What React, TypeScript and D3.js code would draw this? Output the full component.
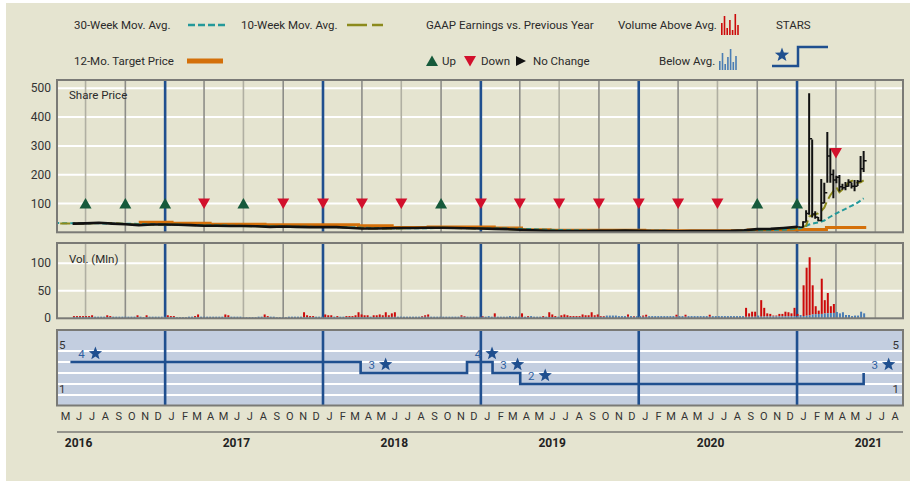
import React from "react";
import * as d3 from "d3";

// share price, level at the start of each month, Jun 2016 - Dec 2020
const priceMonthly = [
  30, 31, 33, 30, 28, 25, 27,
  27, 26, 25, 23, 23, 22, 22, 21, 19, 20, 19, 18,
  18, 18, 16, 13, 13, 14, 15, 15, 16, 16, 15, 14,
  13, 12, 11, 9, 7, 5.5, 4.5, 4, 4, 5, 5.5, 6,
  5, 4, 4, 3.5, 4.5, 4.5, 4.5, 5, 7, 11, 12, 15
];

// weekly bars from Fri Jan 1 2021 to Fri Jun 4 2021
const high2021 = [21.5, 19.1, 38.7, 76.8, 483, 322, 72.7, 53.5, 184.7, 172.2, 348.5, 292, 218, 196.4, 198.8, 169, 175, 184.5, 172.9, 182, 182, 265, 282.5];
const low2021 = [18.5, 17.1, 17.0, 36.6, 61.1, 51.1, 46.8, 38.5, 38.5, 101, 172.4, 172, 118.5, 170, 141.5, 148, 146, 158, 152, 142.3, 161, 175, 209.5];
const close2021 = [18.8, 17.7, 35.5, 65, 325, 63.8, 52.4, 40.6, 101.7, 137.7, 264.5, 200.3, 181.8, 190.8, 158.4, 154.7, 160.1, 173.6, 159.9, 160, 176.8, 220.4, 248.4];

// moving averages: monthly Apr 2016 - Dec 2020, then weekly 2021
const ma10Monthly = [
  31, 31, 30, 30, 32, 32, 29, 26, 26,
  27, 27, 25, 24, 23, 22, 22, 21, 20, 19, 19, 18,
  18, 18, 17, 14, 13, 13, 14, 15, 15, 16, 15, 14,
  13, 12, 11, 10, 8, 6.5, 5, 4.3, 4, 4.5, 5.2, 5.8,
  5.2, 4.5, 4, 3.8, 4.2, 4.5, 4.5, 4.8, 6, 9, 11, 14
];
const ma10Weekly = [14.8, 15.5, 17.9, 23.3, 54.5, 59.2, 62.8, 65.5, 74.1, 85.8, 110.4, 128.7, 143.3, 155.9, 139.2, 148.3, 159.1, 172.4, 178.2, 180.4, 171.6, 173.6, 180.3];
const ma30Monthly = [
  32, 32, 31, 31, 31, 30, 30, 29, 28,
  27, 26, 25, 25, 24, 23, 22, 22, 21, 20, 19, 19,
  18, 18, 17, 16, 15, 14, 14, 14, 14, 15, 15, 15,
  14, 13, 13, 12, 11, 9, 8, 7, 6, 5, 4.5, 4.5,
  4.8, 5, 5, 4.6, 4.3, 4.1, 4.2, 4.5, 5, 6, 7.5, 9
];
const ma30Weekly = [12, 14, 18, 22, 27, 30, 32, 34, 37, 41, 48, 54, 60, 66, 71, 76, 81, 87, 92, 97, 103, 110, 118];

// 12-month target price steps
const targetDates = ["2016-11-01", "2017-01-17", "2017-04-15", "2017-08-20", "2018-03-24", "2018-06-10", "2018-09-01", "2019-02-01", "2019-04-05", "2019-06-10", "2020-01-15", "2020-09-10", "2021-01-01", "2021-03-10"];
const targetValues = [35, 31, 28, 26, 23, 17, 18, 15, 9, 7, 5, 8, 10, 17];
const targetEnd = "2021-06-10";

// GAAP earnings vs previous year
const gaapDates = ["2016-07-01", "2016-10-01", "2017-01-01", "2017-04-01", "2017-07-01", "2017-10-01", "2018-01-01", "2018-04-01", "2018-07-01", "2018-10-01", "2019-01-01", "2019-04-01", "2019-07-01", "2019-10-01", "2020-01-01", "2020-04-01", "2020-07-01", "2020-10-01", "2021-01-01", "2021-04-01"];
const gaapDir = ["up", "up", "up", "down", "up", "down", "down", "down", "down", "up", "down", "down", "down", "down", "down", "down", "down", "up", "up", "down"];
const gaapLevel = [100, 100, 100, 100, 100, 100, 100, 100, 100, 100, 100, 100, 100, 100, 100, 100, 100, 100, 100, 275];

// weekly average daily volume (millions), Fridays from Jun 3 2016
const vol2016 = [4, 4, 4, 4, 4, 4, 5.5, 3, 3, 3, 3, 5.5, 4, 3, 3, 3, 3, 3, 3, 3, 3, 5.5, 3, 2, 5.5, 3, 3, 3, 3, 3, 3];
const col2016 = "rrrrrrrbbbbrrbbbbbbbbrbbrbbbbbb";
const vol2017 = [5.5, 4, 4, 2, 2, 2, 2, 3, 3, 4, 7, 3, 3, 3, 3, 3, 3, 3, 3, 7, 5.5, 3, 3, 3, 3, 2, 2, 2, 2, 2, 3, 3, 7, 4, 3, 3, 2, 2, 2, 2, 3, 3, 3, 3, 3, 11, 5.5, 4, 4, 3, 3, 3];
const col2017 = "rrrbbbbbbrrbbbbbbbbrrbbbbbbbbbbbrrbbbbbbbbbbbrrrrbbb";
const vol2018 = [7, 5.5, 5.5, 3, 4, 3, 3, 4, 4, 4, 5.5, 11, 7, 5.5, 5.5, 3, 5.5, 5.5, 7, 5.5, 11, 5.5, 9, 11, 3, 3, 3, 3, 3, 3, 3, 3, 4, 5.5, 7, 3, 3, 3, 3, 3, 3, 3, 3, 3, 3, 5.5, 4, 3, 3, 3, 3, 3];
const col2018 = "rrrbrbbrrrrrrrrbrrrrrrrrbbbbbbbbrrrbbbbbbbbbbrrbbbbb";
const vol2019 = [4, 3, 4, 3, 9, 3, 3, 3, 3, 4, 3, 3, 3, 9, 3, 4, 4, 3, 3, 3, 4, 3, 11, 7, 4, 3, 5.5, 7, 5.5, 4, 4, 4, 4, 7, 5.5, 5.5, 11, 5.5, 7, 4, 4, 5, 5, 5, 5, 4, 4, 4, 7, 4, 4, 4];
const col2019 = "rbbbrbbbbbbbbrbrbbbbrbrrrbrrrrrrrrrrrrrrrbbbbbbbrbrb";
const vol2020 = [4, 5, 6.5, 4, 4, 4, 4, 4, 4, 4, 4, 4, 6.5, 4, 4, 6.5, 4, 4, 4, 4, 4, 4, 4, 6.5, 4, 4, 4, 4, 4, 4, 4, 4, 4, 4, 4, 19, 9, 12, 12, 5, 33, 19, 9, 8, 5, 5, 8, 8, 12, 11, 9, 19];
const col2020 = "brrbbbbbbbbbrbbrbbbbbbbrbbbbbbbbbbbrrrrbrrrrrrrrrrrr";
const vol2021 = [8, 6, 60, 92, 111, 60, 22, 14, 72, 33, 46, 22, 26, 11.5, 9, 11, 6, 6, 4, 5, 5, 12, 9];
const col2021 = "rbrrrrrrrrrrrbbbbbbbbbb";

// S&P STARS
const starDates = ["2016-05-27", "2018-03-29", "2018-11-30", "2019-01-28", "2019-04-02", "2021-06-04"];
const starLevels = [4, 3, 4, 3, 2, 3];

const priceTicks = [100, 200, 300, 400, 500];
const volTicks = [0, 50, 100];
const years = [2016, 2017, 2018, 2019, 2020, 2021];
const monthLetters = "JFMAMJJASOND";

const redLegendBars = [12, 19, 7, 15, 5, 21, 10];
const blueLegendBars = [9, 17, 6, 13, 21, 8, 14];

const FONT = "Roboto, 'Liberation Sans', Arial, sans-serif";
const BG = "#e5e4d0";
const TEAL = "#24999a";
const OLIVE = "#8c8a1c";
const ORANGE = "#d4700a";
const NAVY = "#1f4f8f";
const RED = "#cc0a0a";
const BLUE = "#4a7db4";
const GREEN = "#165a3b";
const DOWNRED = "#d2102c";
const BORDER = "#7a7a76";

const left = 57, right = 903;
const price = { top: 80, bottom: 232.3 };
const vol = { top: 243, bottom: 318.3 };
const stars = { top: 330, bottom: 405.5 };

const parse = d3.timeParse("%Y-%m-%d");

function starPoints(cx: number, cy: number, r: number) {
  const pts: string[] = [];
  for (let i = 0; i < 10; i++) {
    const rad = i % 2 === 0 ? r : r * 0.42;
    const a = -Math.PI / 2 + (i * Math.PI) / 5;
    pts.push(`${cx + rad * Math.cos(a)},${cy + rad * Math.sin(a)}`);
  }
  return pts.join(" ");
}

function upTri(cx: number, cy: number) {
  return `${cx},${cy - 5.5} ${cx - 6},${cy + 5} ${cx + 6},${cy + 5}`;
}
function downTri(cx: number, cy: number) {
  return `${cx - 6},${cy - 5} ${cx + 6},${cy - 5} ${cx},${cy + 5.5}`;
}

export default function App() {
  const x = d3
    .scaleTime()
    .domain([new Date(2016, 3, 26), new Date(2021, 8, 3)])
    .range([left, right]);
  const yP = d3.scaleLinear().domain([0, 100]).range([price.bottom, price.bottom - 28.8]);
  const yV = d3.scaleLinear().domain([0, 100]).range([vol.bottom, vol.bottom - 55]);
  const yS = d3.scaleLinear().domain([1, 5]).range([395, 351]);

  const monthStart = (i: number, y0: number, m0: number) => new Date(y0, m0 + i, 1);
  const weekDate = (i: number) => d3.timeDay.offset(new Date(2016, 5, 3), 7 * i);
  const week2021 = (i: number) => d3.timeDay.offset(new Date(2021, 0, 1), 7 * i);

  const pricePts: [Date, number][] = priceMonthly.map((v, i) => [monthStart(i, 2016, 5), v]);
  pricePts.push([week2021(0), close2021[0]]);
  const line = d3
    .line<[Date, number]>()
    .x((d) => x(d[0]))
    .y((d) => yP(d[1]));

  const ma10Pts: [Date, number][] = [
    ...ma10Monthly.map((v, i) => [monthStart(i, 2016, 3), v] as [Date, number]),
    ...ma10Weekly.map((v, i) => [week2021(i), v] as [Date, number]),
  ];
  const ma30Pts: [Date, number][] = [
    ...ma30Monthly.map((v, i) => [monthStart(i, 2016, 3), v] as [Date, number]),
    ...ma30Weekly.map((v, i) => [week2021(i), v] as [Date, number]),
  ];

  const targetPts: [Date, number][] = targetDates.map((d, i) => [parse(d)!, targetValues[i]]);
  targetPts.push([parse(targetEnd)!, targetValues[targetValues.length - 1]]);
  const stepLine = d3
    .line<[Date, number]>()
    .x((d) => x(d[0]))
    .y((d) => yP(d[1]))
    .curve(d3.curveStepAfter);

  const vols = [...vol2016, ...vol2017, ...vol2018, ...vol2019, ...vol2020, ...vol2021];
  const cols = (col2016 + col2017 + col2018 + col2019 + col2020 + col2021).split("");
  const avg = vols.map((v, i) => {
    const s = vols.slice(Math.max(0, i - 52), i);
    return s.length ? (d3.mean(s) as number) : v;
  });

  const starPts: [Date, number][] = starDates.map((d, i) => [parse(d)!, starLevels[i]]);
  const starLine = d3
    .line<[Date, number]>()
    .x((d) => x(d[0]))
    .y((d) => yS(d[1]))
    .curve(d3.curveStepAfter);

  const quarters = d3.timeMonth.range(new Date(2016, 6, 1), new Date(2021, 8, 1), 3);
  const months = d3.timeMonth.range(new Date(2016, 4, 1), new Date(2021, 8, 1));

  const vLines = (top: number, bottom: number, withGray: boolean) =>
    quarters.map((q, i) => {
      const isJan = q.getMonth() === 0;
      if (!isJan && !withGray) return null;
      return (
        <line
          key={i}
          x1={x(q)}
          x2={x(q)}
          y1={top}
          y2={bottom}
          stroke={isJan ? NAVY : q.getMonth() === 6 ? "#b0afa2" : "#8d8d88"}
          strokeWidth={isJan ? 2.6 : 1.6}
        />
      );
    });

  return (
    <svg
      width={916}
      height={481}
      style={{ position: "absolute", left: 0, top: 0, fontFamily: FONT }}
    >
      <defs>
        <clipPath id="priceClip">
          <rect x={left} y={price.top} width={right - left} height={price.bottom - price.top} />
        </clipPath>
      </defs>
      <rect x={0} y={0} width={916} height={481} fill="#ffffff" />
      <rect x={6} y={3} width={904} height={478} fill={BG} />

      {/* legend */}
      <g fontSize={11.5} fill="#2a2a2a">
        <text x={74} y={29}>30-Week Mov. Avg.</text>
        <line x1={188} x2={225} y1={25} y2={25} stroke={TEAL} strokeWidth={2.5} strokeDasharray="7 3" />
        <text x={241} y={29}>10-Week Mov. Avg.</text>
        <line x1={347} x2={383} y1={25} y2={25} stroke={OLIVE} strokeWidth={2.5} strokeDasharray="20 5" />
        <text x={426} y={29}>GAAP Earnings vs. Previous Year</text>
        <text x={618} y={29}>Volume Above Avg.</text>
        {redLegendBars.map((h, i) => (
          <rect key={i} x={721 + i * 2.7} y={35 - h} width={1.6} height={h} fill={RED} />
        ))}
        <text x={776} y={29}>STARS</text>

        <text x={74} y={65}>12-Mo. Target Price</text>
        <line x1={187} x2={223} y1={61} y2={61} stroke={ORANGE} strokeWidth={5} />
        <polygon points={upTri(432, 61)} fill={GREEN} />
        <text x={442} y={65}>Up</text>
        <polygon points={downTri(470, 61)} fill={DOWNRED} />
        <text x={481} y={65}>Down</text>
        <polygon points="516,56 516,66 526,61" fill="#111" />
        <text x={533} y={65}>No Change</text>
        <text x={659} y={65}>Below Avg.</text>
        {blueLegendBars.map((h, i) => (
          <rect key={i} x={719 + i * 2.7} y={70 - h} width={1.6} height={h} fill={BLUE} />
        ))}
        <polygon points={starPoints(782, 55, 7.5)} fill={NAVY} />
        <polyline points="772,66 798,66 798,47 828,47" fill="none" stroke={NAVY} strokeWidth={2.5} />
      </g>

      {/* price panel */}
      {priceTicks.map((t) => (
        <line key={t} x1={left} x2={right} y1={yP(t)} y2={yP(t)} stroke="#ffffff" strokeWidth={2} />
      ))}
      {vLines(price.top, price.bottom, true)}
      <g clipPath="url(#priceClip)">
        <path d={stepLine(targetPts) || ""} fill="none" stroke={ORANGE} strokeWidth={3} />
        <path d={line(ma30Pts) || ""} fill="none" stroke={TEAL} strokeWidth={2} strokeDasharray="5 3" />
        <path d={line(ma10Pts) || ""} fill="none" stroke={OLIVE} strokeWidth={2} strokeDasharray="10 4" />
        <path d={line(pricePts) || ""} fill="none" stroke="#111" strokeWidth={2.6} />
        {high2021.map((h, i) => {
          const cx = x(week2021(i));
          return (
            <g key={i} stroke="#111">
              <line x1={cx} x2={cx} y1={yP(h)} y2={yP(low2021[i])} strokeWidth={2} />
              <line x1={cx} x2={cx + 3} y1={yP(close2021[i])} y2={yP(close2021[i])} strokeWidth={1.5} />
            </g>
          );
        })}
      </g>
      {gaapDates.map((d, i) => {
        const cx = x(parse(d)!);
        const cy = yP(gaapLevel[i]);
        return gaapDir[i] === "up" ? (
          <polygon key={i} points={upTri(cx, cy)} fill={GREEN} />
        ) : (
          <polygon key={i} points={downTri(cx, cy)} fill={DOWNRED} />
        );
      })}
      <rect x={left} y={price.top} width={right - left} height={price.bottom - price.top} fill="none" stroke={BORDER} strokeWidth={2} />
      <text x={69} y={99} fontSize={11.5} fill="#2a2a2a">Share Price</text>
      {priceTicks.map((t) => (
        <text key={t} x={51} y={yP(t) + 4} fontSize={12} fill="#333" textAnchor="end">{t}</text>
      ))}

      {/* volume panel */}
      {volTicks.slice(1).map((t) => (
        <line key={t} x1={left} x2={right} y1={yV(t)} y2={yV(t)} stroke="#ffffff" strokeWidth={2} />
      ))}
      {vLines(vol.top, vol.bottom, true)}
      {vols.map((v, i) => {
        const cx = x(weekDate(i)) + 0.5;
        if (cols[i] === "b") {
          return <rect key={i} x={cx - 1} y={yV(v)} width={2} height={yV(0) - yV(v)} fill={BLUE} />;
        }
        const base = Math.min(v, avg[i] * 0.6);
        return (
          <g key={i}>
            <rect x={cx - 1} y={yV(v)} width={2} height={yV(base) - yV(v)} fill={RED} />
            <rect x={cx - 1} y={yV(base)} width={2} height={yV(0) - yV(base)} fill={BLUE} />
          </g>
        );
      })}
      <rect x={left} y={vol.top} width={right - left} height={vol.bottom - vol.top} fill="none" stroke={BORDER} strokeWidth={2} />
      <text x={69} y={263} fontSize={11.5} fill="#2a2a2a">Vol. (Mln)</text>
      {volTicks.map((t) => (
        <text key={t} x={51} y={yV(t) + 4} fontSize={12} fill="#333" textAnchor="end">{t}</text>
      ))}

      {/* stars panel */}
      <rect x={left} y={stars.top} width={right - left} height={stars.bottom - stars.top} fill="#c3cee0" />
      {[1, 2, 3, 4, 5].map((l) => (
        <line key={l} x1={left} x2={right} y1={yS(l)} y2={yS(l)} stroke="#ffffff" strokeWidth={2} />
      ))}
      {vLines(stars.top, stars.bottom, false)}
      <path d={starLine(starPts) || ""} fill="none" stroke={NAVY} strokeWidth={2.6} />
      {starPts.map((p, i) => {
        const sx = x(p[0]);
        const sy = yS(p[1]) - 8.5;
        return (
          <g key={i}>
            <text x={sx + 11} y={sy + 4} fontSize={11.5} fill="#2f5f9f" textAnchor="middle">{p[1]}</text>
            <polygon points={starPoints(sx + 25, sy, 7)} fill={NAVY} />
          </g>
        );
      })}
      <rect x={left} y={stars.top} width={right - left} height={stars.bottom - stars.top} fill="none" stroke={BORDER} strokeWidth={2} />
      <g fontSize={11.5} fill="#333">
        <text x={59} y={349}>5</text>
        <text x={59} y={393}>1</text>
        <text x={899} y={349} textAnchor="end">5</text>
        <text x={899} y={393} textAnchor="end">1</text>
      </g>

      {/* time axis */}
      {months.map((m, i) => (
        <text key={i} x={x(d3.timeDay.offset(m, 15))} y={420} fontSize={11} fill="#333" textAnchor="middle">
          {monthLetters[m.getMonth()]}
        </text>
      ))}
      <line x1={left} x2={right} y1={432} y2={432} stroke={BORDER} strokeWidth={1.5} />
      {years.map((yr) => (
        <text key={yr} x={x(new Date(yr, 5, 15))} y={447} fontSize={12} fontWeight="bold" fill="#222" textAnchor="middle">
          {yr}
        </text>
      ))}
    </svg>
  );
}
